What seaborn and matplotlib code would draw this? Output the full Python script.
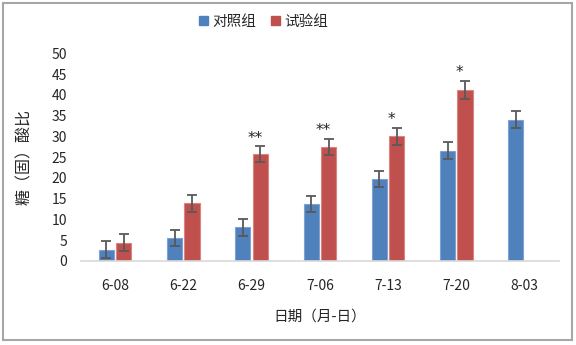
import numpy as np
import pandas as pd
import seaborn as sns
from matplotlib import pyplot as plt
from matplotlib.patches import Rectangle

dates = ["6-08", "6-22", "6-29", "7-06", "7-13", "7-20", "8-03"]
groups = ["对照组", "试验组"]
control = [2.7, 5.5, 8.1, 13.7, 19.7, 26.6, 34.0]
control_err = [2.0, 2.0, 2.0, 2.0, 2.0, 2.0, 2.0]
treat = [4.4, 13.9, 25.7, 27.4, 30.0, 41.2, np.nan]
treat_err = [2.0, 2.0, 1.9, 2.0, 2.0, 2.1, np.nan]
stars = ["", "", "**", "**", "*", "*", ""]

colors = ["#4F81BD", "#C0504D"]

df = pd.DataFrame({
    "date": dates * 2,
    "group": [groups[0]] * len(dates) + [groups[1]] * len(dates),
    "value": control + treat,
})

sns.set_style("white")
plt.rcParams['font.family'] = ['Noto Sans CJK SC', 'DejaVu Sans']

fig = plt.figure(figsize=(5.76, 3.45), dpi=100)
ax = fig.add_axes([0.1406, 0.2435, 0.8294, 0.602])

sns.barplot(data=df, x="date", y="value", hue="group", order=dates, hue_order=groups,
            palette=colors, saturation=1, width=0.507, gap=0.13, errorbar=None, ax=ax,
            linewidth=0.8, legend=False)

bar_groups = list(ax.containers)

# lighter edges like the excel bars
for bar_group, col in zip(bar_groups, ["#7EA3D3", "#D98683"]):
    for p in bar_group.patches:
        p.set_edgecolor(col)

# error bars and significance marks
errs = [control_err, treat_err]
for k, bar_group in enumerate(bar_groups):
    for i, p in enumerate(bar_group.patches):
        h = p.get_height()
        if np.isnan(h) or np.isnan(errs[k][i]):
            continue
        xc = p.get_x() + p.get_width() / 2
        ax.errorbar(xc, h, yerr=errs[k][i], color="#595959", capsize=3.5,
                    elinewidth=1.3, capthick=1.3)
        if k == 1 and stars[i]:
            ax.text(xc - 0.08, h + errs[k][i] + 0.2, stars[i], ha="center", va="bottom",
                    fontsize=11, color="#222222", family="DejaVu Sans")

ax.set_xlim(-0.5, len(dates) - 0.5)
ax.set_ylim(0, 50)
ax.set_yticks(range(0, 51, 5))
for s in ["top", "right", "left"]:
    ax.spines[s].set_visible(False)
ax.spines["bottom"].set_color("#D9D9D9")
ax.spines["bottom"].set_linewidth(1.2)
ax.tick_params(axis="x", length=0, pad=13, labelsize=10, colors="#262626")
ax.tick_params(axis="y", length=0, pad=10, labelsize=10, colors="#262626")
ax.set_xlabel("日期（月-日）", fontsize=10.5, color="#262626", labelpad=12)
ax.set_ylabel("糖（固）酸比", fontsize=11.5, color="#262626", labelpad=13)

handles = [Rectangle((0, 0), 1, 1, color=c) for c in colors]
fig.legend(handles, groups, loc="center", bbox_to_anchor=(263.7 / 576, 1 - 22 / 345),
           ncol=2, frameon=False, fontsize=10.5, handlelength=0.6, handleheight=0.6,
           handletextpad=0.3, columnspacing=1.0)

# outer chart border
fig.patches.append(Rectangle((0.006, 0.014), 0.987, 0.977, transform=fig.transFigure,
                             fill=False, edgecolor="#A6A6A6", linewidth=1.5))

fig.savefig("out.png", dpi=100)
